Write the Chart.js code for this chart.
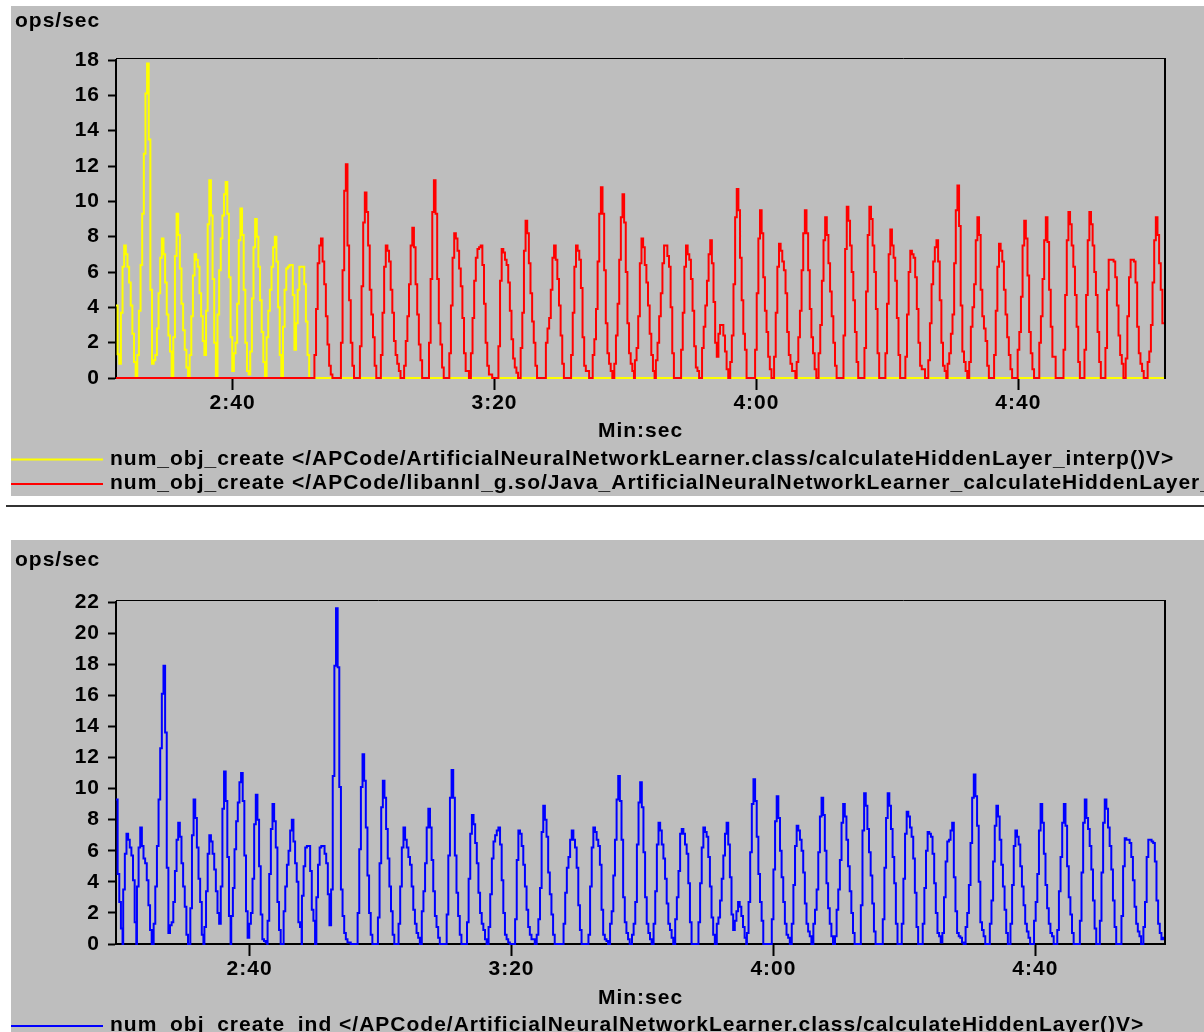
<!DOCTYPE html>
<html>
<head>
<meta charset="utf-8">
<title>num_obj_create ops/sec</title>
<script src="https://cdn.jsdelivr.net/npm/chart.js@4.4.1/dist/chart.umd.min.js"></script>
<style>
    html, body { margin: 0; padding: 0; background: #fff; }
    body { position: relative; width: 1204px; height: 1032px; overflow: hidden; }
    .panel { position: absolute; left: 11px; width: 1193px; background: #bebebe; }
    #topPanel { top: 6px; height: 490px; }
    #bottomPanel { top: 540px; height: 492px; }
    .rule { position: absolute; left: 6px; top: 505px; width: 1198px; height: 2px; background: #333; }
</style>
</head>
<body>
<div class="panel" id="topPanel"><canvas id="topChart"></canvas></div>
<div class="rule"></div>
<div class="panel" id="bottomPanel"><canvas id="bottomChart"></canvas></div>
<script>
// profiler samples are 0.25 s apart
const SAMPLE_STEP = 0.25;

// x axis is in seconds, labelled min:sec
const xTickSeconds = [160, 200, 240, 280];
const xTickLabels = ['2:40', '3:20', '4:00', '4:40'];

// ---- top chart ----
const topRange = [142.2, 302.4];
const topYMax = 18;

const interpLabel = 'num_obj_create </APCode/ArtificialNeuralNetworkLearner.class/calculateHiddenLayer_interp()V>';
const interpStarts = [142.2];
const interpBursts = [
    [4.1, 1.35, 0.8, 3.7, 6.3, 7.5, 7.0, 6.3, 5.4, 4.1,
     2.5, 0.9, 0, 1.3, 3.8, 6.4, 9.3, 12.7, 16.1, 17.8,
     13.5, 5.0, 0.8, 1.0, 1.3, 2.8, 4.8, 6.8, 7.9, 7.0,
     5.4, 3.6, 2.4, 1.5, 0, 2.3, 6.9, 9.3, 8.1, 6.2,
     4.2, 2.7, 1.6, 0.6, 0, 1.3, 3.5, 5.8, 7.0, 6.7,
     6.3, 4.8, 3.5, 2.1, 1.3, 3.8, 8.7, 11.2, 9.2, 5.6,
     2.0, 0, 3.6, 6.1, 7.9, 9.2, 10.4, 11.1, 9.3, 5.7,
     2.3, 0.4, 1.4, 2.0, 4.2, 7.8, 9.6, 8.1, 5.0, 2.0,
     0.4, 0.2, 1.5, 4.5, 7.4, 9.0, 8.0, 6.3, 4.4, 2.6,
     0.9, 0, 2.3, 3.8, 5.0, 6.3, 7.4, 8.0, 6.6, 4.0,
     1.3, 0, 2.9, 5.0, 6.2, 6.3, 6.4, 6.4, 4.7, 1.6,
     3.1, 5.0, 6.3, 6.3, 6.3, 5.3, 3.2, 1.3]
];

const nativeLabel = 'num_obj_create </APCode/libannl_g.so/Java_ArtificialNeuralNetworkLearner_calculateHiddenLayer__3D_3D_3DII(I)V>';
const nativeStarts = [
    172.5, 176.55, 179.45, 182.65, 186.2, 190.0, 193.1, 196.4, 200.6, 204.0,
    207.85, 211.7, 215.0, 218.3, 221.45, 224.65, 228.5, 231.7, 236.0, 239.8,
    242.7, 246.15, 249.5, 253.3, 256.5, 259.7, 262.75, 266.25, 269.2, 272.5,
    276.3, 279.9, 283.2, 286.9, 290.1, 293.3, 296.4, 299.75
];
const nativeBursts = [
    [1.3, 3.9, 6.5, 7.5, 7.9, 6.6, 5.3, 3.5, 1.9, 0.7, 0.2],
    [2.0, 6.1, 10.6, 12.1, 7.5, 4.4, 2.0, 0.7],
    [1.8, 5.2, 8.8, 10.5, 9.4, 7.5, 5.0, 3.6, 2.3, 0.7],
    [1.3, 3.7, 6.3, 7.5, 7.2, 6.6, 5.0, 3.7, 2.1, 1.3, 0.8, 0.4],
    [0.7, 2.1, 3.5, 5.3, 7.5, 8.5, 7.4, 5.3, 3.6, 1.9, 1.0],
    [2.0, 5.6, 9.4, 11.2, 9.3, 5.6, 3.1, 1.9, 0.6],
    [1.4, 4.1, 6.8, 8.2, 7.9, 7.2, 6.2, 5.2, 3.4, 1.4, 0.4, 0.4],
    [1.4, 3.4, 5.5, 6.8, 7.3, 7.4, 7.5, 6.4, 4.2, 2.0, 0.7, 0.2, 0.2],
    [1.8, 5.5, 7.3, 7.1, 6.7, 6.4, 5.4, 3.8, 2.2, 1.1, 0.6, 0.3],
    [1.7, 3.7, 7.2, 8.9, 8.2, 6.5, 4.8, 3.2, 2.0, 0.7],
    [2.0, 2.8, 3.4, 5.0, 6.8, 7.5, 6.7, 5.6, 4.1, 2.4, 0.8],
    [1.3, 3.7, 6.3, 7.5, 7.2, 6.7, 5.1, 2.3, 0.7, 0.4, 0.4],
    [1.3, 2.2, 3.9, 6.6, 9.3, 10.8, 9.3, 6.1, 3.1, 1.4, 0.8, 0.4],
    [0.8, 2.4, 4.2, 6.7, 9.1, 10.4, 8.8, 6.0, 3.1, 1.4, 0.8, 0.4],
    [1.0, 1.7, 3.5, 6.5, 7.9, 7.4, 6.4, 5.4, 4.1, 2.5, 1.3, 0.4],
    [1.0, 2.0, 3.5, 4.8, 6.5, 7.5, 7.5, 6.9, 6.3, 4.0, 1.4],
    [1.6, 3.7, 6.3, 7.5, 7.0, 6.7, 5.6, 3.8, 1.8, 0.6, 0.4],
    [1.7, 2.9, 4.1, 5.5, 7.0, 7.8, 6.5, 4.3, 2.0, 1.2, 2.5, 3.0, 3.0, 2.4, 1.5, 0.5],
    [0.9, 2.4, 5.3, 9.1, 10.7, 9.5, 6.8, 4.4, 2.5, 1.6],
    [1.6, 4.8, 7.9, 9.5, 8.2, 5.7, 3.8, 2.6, 1.2, 0.5],
    [1.2, 3.7, 6.3, 7.6, 7.2, 6.6, 6.1, 4.8, 2.6, 1.3, 0.8, 0.4, 0.4],
    [0.9, 2.3, 3.8, 6.1, 8.2, 9.5, 8.2, 6.1, 3.9, 2.3, 1.4, 0.5],
    [1.4, 3.0, 5.5, 7.8, 9.1, 8.1, 6.5, 4.9, 3.5, 2.0, 0.7],
    [2.4, 7.3, 9.7, 8.9, 7.5, 6.0, 4.4, 2.6, 0.9],
    [1.7, 4.9, 8.1, 9.7, 9.0, 7.5, 6.0, 3.9, 1.4],
    [1.4, 4.2, 7.0, 8.4, 7.5, 6.8, 5.5, 3.4, 1.3],
    [1.2, 3.6, 6.0, 7.2, 7.0, 6.8, 5.7, 3.9, 2.0, 0.7, 0.5, 0.5],
    [1.0, 3.1, 5.3, 6.6, 7.4, 7.8, 6.6, 4.4, 2.0, 0.7, 0.4],
    [0.8, 1.4, 2.5, 3.6, 6.5, 9.5, 10.9, 8.6, 4.1, 1.5, 0.9, 0.4],
    [0.9, 2.9, 4.0, 5.3, 7.8, 9.1, 8.1, 5.0, 3.5, 2.8, 2.1, 0.7],
    [1.3, 3.8, 6.3, 7.6, 7.2, 6.6, 5.0, 3.6, 2.3, 1.3, 0.5],
    [1.6, 2.6, 4.6, 7.5, 8.9, 7.9, 5.8, 2.6, 1.4, 0.5],
    [2.0, 3.5, 5.6, 7.8, 9.1, 7.7, 5.0, 2.9, 1.2, 1.2],
    [1.6, 4.7, 7.8, 9.4, 8.7, 7.5, 6.3, 4.7, 2.9, 0.9],
    [1.6, 4.7, 7.8, 9.4, 8.7, 7.5, 6.0, 4.7, 2.6, 0.9],
    [1.7, 5.0, 6.7, 6.7, 6.7, 6.6, 5.7, 4.1, 2.4, 1.3, 0.8],
    [1.1, 3.5, 5.7, 6.7, 6.7, 6.6, 5.4, 2.9, 1.4, 0.8, 0.4],
    [0.9, 1.5, 3.0, 5.4, 7.8, 9.1, 8.1, 6.5, 5.0, 3.1]
];

// ---- bottom chart ----
const bottomRange = [139.6, 299.8];
const bottomYMax = 22;

const indLabel = 'num_obj_create_ind </APCode/ArtificialNeuralNetworkLearner.class/calculateHiddenLayer()V>';
const indStarts = [
    139.6, 140.7, 142.8, 145.35, 150.95, 153.1, 157.2, 162.75, 165.2, 168.0,
    170.2, 176.5, 179.6, 182.75, 186.3, 190.1, 193.2, 196.5, 200.55, 203.85,
    207.95, 211.75, 215.05, 218.4, 221.7, 225.0, 228.55, 231.35, 235.95, 239.75,
    242.8, 246.1, 249.4, 253.35, 256.7, 259.6, 262.8, 265.8, 269.35, 273.05,
    276.2, 279.8, 283.35, 286.8, 289.85, 293.15, 296.5
];
const indBursts = [
    [9.3, 4.5, 2.7, 1.0],
    [3.5, 5.8, 7.1, 6.7, 6.2, 5.7, 4.1, 1.4],
    [3.7, 6.2, 7.5, 6.3, 5.5, 5.2, 4.1, 2.5, 0.9],
    [1.3, 3.7, 6.3, 9.3, 12.6, 16.1, 17.9, 13.6, 4.9, 0.7, 1.2, 1.4, 2.7, 4.7, 6.7, 7.8, 6.9, 5.2, 3.7, 2.4, 0.6],
    [2.3, 7.0, 9.3, 8.1, 6.2, 4.2, 2.7, 0.6],
    [1.1, 3.4, 5.8, 7.0, 6.6, 5.8, 4.8, 3.4, 2.0, 1.3, 3.7, 8.7, 11.1, 9.2, 5.6, 1.8],
    [1.8, 3.6, 6.1, 7.9, 9.1, 10.4, 11.0, 9.2, 5.7, 2.1, 0.4, 1.3, 2.0, 4.2, 7.7, 9.6, 8.0, 5.0, 1.9, 0.3, 0.2, 0.1],
    [1.5, 4.5, 7.4, 9.0, 7.9, 6.2, 2.7, 0.9],
    [2.1, 3.7, 5.1, 6.0, 7.3, 8.0, 6.6, 5.2, 4.0, 1.4, 1.1],
    [3.1, 5.0, 6.2, 6.3, 6.3, 4.7, 2.2, 1.5],
    [3.0, 5.1, 6.2, 6.3, 6.3, 5.8, 5.2, 3.2, 1.2, 3.5, 10.8, 17.9, 21.6, 17.8, 10.1, 3.5, 1.8, 0.7, 0.3, 0.1, 0.1],
    [2.0, 6.1, 10.1, 12.2, 10.5, 7.5, 4.4, 2.0, 0.6],
    [1.7, 5.2, 8.8, 10.5, 9.4, 7.4, 5.5, 3.7, 2.1, 0.6],
    [1.3, 3.7, 6.2, 7.5, 6.7, 6.2, 5.6, 5.1, 3.7, 2.2, 1.3, 0.7, 0.4],
    [2.1, 3.4, 5.2, 7.5, 8.7, 7.5, 5.4, 3.4, 1.8, 1.1, 0.4],
    [1.9, 5.7, 9.4, 11.2, 9.4, 5.7, 3.3, 1.8, 0.6],
    [1.4, 4.2, 7.1, 8.3, 7.7, 6.5, 5.2, 3.3, 2.0, 1.3, 0.9, 0.3],
    [1.1, 3.2, 5.5, 6.6, 7.0, 7.3, 7.5, 6.4, 4.1, 2.0, 0.6, 0.3, 0.1],
    [1.6, 5.4, 7.3, 7.1, 6.3, 5.1, 3.7, 2.2, 1.1, 0.6, 0.3, 0.3],
    [0.6, 1.6, 3.6, 7.2, 8.9, 8.0, 6.9, 4.6, 3.2, 1.9, 0.6],
    [1.3, 3.3, 4.9, 5.6, 6.7, 7.3, 6.7, 6.2, 4.9, 2.5, 0.9],
    [0.6, 3.7, 6.2, 7.5, 7.2, 6.7, 6.3, 5.1, 2.2, 0.6, 0.3, 0.2],
    [1.3, 2.1, 4.4, 6.7, 9.3, 10.8, 9.2, 6.7, 3.0, 1.4, 0.7, 0.3],
    [0.6, 1.3, 2.7, 6.4, 9.1, 10.4, 8.8, 5.9, 3.0, 1.3, 0.7, 0.3],
    [1.3, 3.4, 6.4, 7.8, 7.3, 6.4, 5.5, 4.2, 2.6, 1.3, 0.9, 0.4],
    [1.6, 3.0, 4.7, 7.1, 7.4, 7.1, 6.4, 5.8, 3.9, 1.4],
    [1.4, 3.9, 6.2, 7.5, 7.2, 6.9, 5.6, 3.7, 1.7, 0.6],
    [1.3, 1.7, 2.8, 4.2, 5.7, 7.1, 7.8, 6.4, 4.3, 1.9, 0.9, 1.5, 2.1, 2.7, 2.4, 1.8, 1.1, 0.4],
    [0.7, 2.7, 5.9, 9.0, 10.6, 9.2, 6.9, 4.5, 2.7, 1.5],
    [1.6, 4.8, 7.9, 9.5, 8.1, 6.0, 4.3, 2.7, 1.3, 0.6, 0.4],
    [1.3, 3.8, 6.3, 7.6, 7.3, 6.7, 6.0, 4.6, 2.6, 1.3, 0.8, 0.5],
    [1.3, 2.2, 3.5, 5.9, 8.2, 9.4, 8.3, 6.0, 3.9, 2.3, 1.3, 0.5],
    [0.5, 2.2, 3.5, 5.4, 7.8, 9.0, 8.2, 6.7, 5.0, 3.4, 2.0, 0.7],
    [2.5, 7.3, 9.7, 8.9, 7.4, 5.9, 4.4, 2.6, 0.8],
    [1.6, 4.9, 8.1, 9.7, 8.9, 7.4, 5.6, 3.9, 1.3],
    [1.3, 4.2, 7.1, 8.5, 8.2, 7.5, 6.9, 5.5, 3.3, 1.1],
    [1.3, 3.6, 6.0, 7.2, 7.1, 6.9, 5.8, 3.9, 2.0, 0.7, 0.5, 0.1],
    [0.7, 3.0, 5.3, 6.6, 6.7, 7.3, 7.8, 4.3, 2.1, 0.7, 0.5, 0.4, 0.1],
    [1.1, 2.0, 3.8, 6.5, 9.4, 10.9, 9.5, 7.6, 4.0, 1.4, 0.9, 0.5],
    [1.3, 2.8, 5.3, 7.6, 8.9, 8.2, 6.7, 5.1, 3.7, 2.2, 0.7],
    [1.3, 3.8, 6.3, 7.3, 6.9, 6.4, 5.0, 3.7, 2.5, 1.3, 0.8, 0.4],
    [1.5, 2.7, 4.5, 7.3, 9.0, 7.8, 5.8, 3.8, 2.3, 1.3, 0.7, 0.5],
    [0.9, 3.4, 5.6, 7.8, 9.0, 7.6, 5.0, 3.0, 1.9, 0.7],
    [1.5, 4.6, 7.8, 9.3, 8.1, 7.4, 6.3, 4.8, 2.8, 1.0],
    [1.5, 4.6, 7.8, 9.3, 8.7, 7.5, 6.3, 4.8, 2.8, 1.1],
    [1.8, 5.0, 6.8, 6.7, 6.7, 6.5, 5.6, 4.1, 2.4, 1.3, 0.8, 0.5],
    [1.1, 2.7, 5.6, 6.7, 6.7, 6.6, 6.5, 5.3, 2.8, 1.3, 0.7, 0.3, 0.4]
];

const FONT_FAMILY = '"Liberation Sans", Arial, Helvetica, sans-serif';
const FONT_SIZE = 21;
const FONT_CSS = `bold ${FONT_SIZE}px ${FONT_FAMILY}`;

// bursts of samples -> {x, y} points, zero between bursts
function toPoints(starts, bursts, range) {
    const points = [];
    if (starts[0] > range[0]) points.push({ x: range[0], y: 0 });
    starts.forEach((t0, i) => {
        const values = bursts[i];
        values.forEach((v, j) => points.push({ x: t0 + j * SAMPLE_STEP, y: v }));
        const end = t0 + values.length * SAMPLE_STEP;
        const next = i + 1 < starts.length ? starts[i + 1] : Infinity;
        if (end < next && end < range[1] - SAMPLE_STEP) points.push({ x: end, y: 0 });
    });
    const last = points[points.length - 1];
    if (last.x < range[1]) points.push({ x: range[1], y: last.y });
    return points;
}

// frame, y title and legend, drawn the way the old profiler did it
const panelDecor = {
    id: 'panelDecor',
    beforeDraw(chart) {
        chart.ctx.letterSpacing = '1px';
    },
    afterDraw(chart, args, opts) {
        const ctx = chart.ctx;
        const area = chart.chartArea;
        ctx.save();
        ctx.letterSpacing = '1px';
        ctx.strokeStyle = '#000';
        ctx.lineWidth = 1;
        ctx.beginPath();
        ctx.moveTo(area.left, area.top - 1.5);
        ctx.lineTo(area.right + 1, area.top - 1.5);
        ctx.stroke();
        ctx.lineWidth = 2;
        ctx.beginPath();
        ctx.moveTo(area.right, area.top - 2);
        ctx.lineTo(area.right, area.bottom + 1);
        ctx.stroke();

        ctx.font = FONT_CSS;
        ctx.textAlign = 'left';
        ctx.textBaseline = 'alphabetic';
        ctx.fillStyle = '#000';
        ctx.fillText('ops/sec', 4, opts.titleBaseline);

        chart.data.datasets.forEach((ds, i) => {
            const y = opts.legendY + i * opts.legendGap;
            ctx.fillStyle = ds.borderColor;
            ctx.fillRect(0, y - 1, 92, 2);
            ctx.fillStyle = '#000';
            ctx.fillText(ds.label, 99, y + 5);
        });
        ctx.restore();
    }
};

function buildOptions(range, yMax, box) {
    const tickFont = { family: FONT_FAMILY, size: FONT_SIZE, weight: 'bold' };
    return {
        responsive: true,
        maintainAspectRatio: false,
        animation: false,
        events: [],
        layout: { padding: { left: 0, top: box.top, right: 39, bottom: box.bottom } },
        elements: { point: { radius: 0 } },
        scales: {
            x: {
                type: 'linear',
                min: range[0],
                max: range[1],
                afterBuildTicks: (scale) => {
                    scale.ticks = xTickSeconds.map((v) => ({ value: v }));
                },
                afterFit: (scale) => { scale.height = box.xHeight; },
                ticks: {
                    autoSkip: false,
                    maxRotation: 0,
                    padding: 1,
                    color: '#000',
                    font: tickFont,
                    callback: (value) => xTickLabels[xTickSeconds.indexOf(value)] || ''
                },
                grid: { drawOnChartArea: false, drawTicks: true, tickLength: 12, tickWidth: 2, tickColor: '#000' },
                border: { display: true, color: '#000', width: 2 },
                title: { display: true, text: 'Min:sec', color: '#000', font: tickFont, padding: 0 }
            },
            y: {
                min: 0,
                max: yMax,
                afterFit: (scale) => { scale.width = 105; },
                ticks: { stepSize: 2, padding: 8, color: '#000', font: tickFont },
                grid: { drawOnChartArea: false, drawTicks: true, tickLength: 8, tickWidth: 2, tickColor: '#000' },
                border: { display: true, color: '#000', width: 2 }
            }
        },
        plugins: {
            legend: { display: false },
            tooltip: { enabled: false },
            panelDecor: box.decor
        }
    };
}

function lineSet(label, color, points, order) {
    return {
        label: label,
        data: points,
        borderColor: color,
        backgroundColor: color,
        borderWidth: 2,
        stepped: true,
        fill: false,
        pointRadius: 0,
        clip: 2,
        order: order
    };
}

new Chart(document.getElementById('topChart'), {
    type: 'line',
    data: {
        datasets: [
            lineSet(interpLabel, '#ffff00', toPoints(interpStarts, interpBursts, topRange), 1),
            lineSet(nativeLabel, '#ff0000', toPoints(nativeStarts, nativeBursts, topRange), 0)
        ]
    },
    options: buildOptions(topRange, topYMax, {
        top: 54, bottom: 52, xHeight: 66,
        decor: { titleBaseline: 21, legendY: 453.5, legendGap: 24.5 }
    }),
    plugins: [panelDecor]
});

new Chart(document.getElementById('bottomChart'), {
    type: 'line',
    data: {
        datasets: [
            lineSet(indLabel, '#0000ff', toPoints(indStarts, indBursts, bottomRange), 0)
        ]
    },
    options: buildOptions(bottomRange, bottomYMax, {
        top: 62, bottom: 21, xHeight: 67,
        decor: { titleBaseline: 26, legendY: 486, legendGap: 24.5 }
    }),
    plugins: [panelDecor]
});
</script>
</body>
</html>
